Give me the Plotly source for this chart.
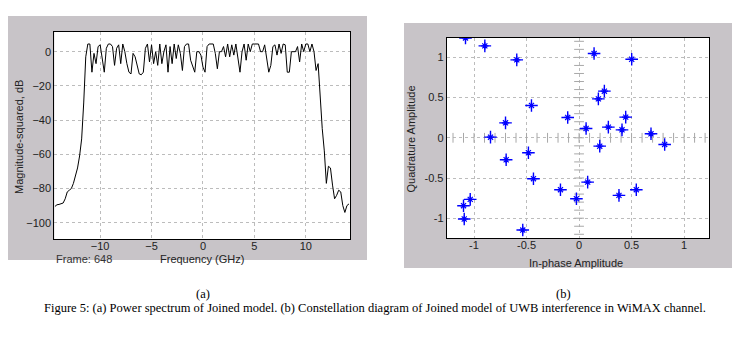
import numpy as np
import plotly.graph_objects as go

# ---------------- data ----------------
# (a) Power spectrum, frequency grid in GHz (0.2 GHz steps)
freq_ghz = np.round(np.arange(-14.4, 14.21, 0.2), 1)

left_tail_db = [-90.5, -89.5, -89.3, -89.0, -88.5, -86, -82, -81, -80, -77,
                -73, -68, -61, -51, -30]
band_db = [-3, 4.5, 4.5, -12, -1, -7, 3, 4, -4, -12,
           2, 4.5, 4.5, 3, -8, 2, 4, -7, 4.5, 0,
           -7, -12, -13, -1, -3, -8, -13, -13.5, -12, 2,
           4.5, -6, 4, -7, 0, -8, 4.5, -7, 0, 4,
           -12, 3, -7, 4.5, -4, 4, -1, -11, 3, 4.5,
           4.5, -5, -8, -12, 0, 0, -2, -9, -12, 3,
           4.5, 4.5, 4.5, -1, -10, 0, 0, 3, -3, 4.5,
           -3, 4, -2, 4.5, -3, -12, 0, 4.5, -5, 4.5,
           0, 4.5, 4.5, 4.5, 4.5, 0, 0, 4, -5, -12,
           -8, 3, 4, -2, 4.5, -1, 4.5, 4, -12, -12,
           0, 0, 0, 3, -6, 4.5, 0, 4.5, 4.5, 0,
           4.5, 0]
right_tail_db = [-11, -7, -28, -45, -58, -77, -67, -68, -78, -86,
                 -84, -81, -82, -90, -94, -90, -89]
power_db = left_tail_db + band_db + right_tail_db

spec_xticks = [-10, -5, 0, 5, 10]
spec_yticks = [0, -20, -40, -60, -80, -100]

# (b) Constellation points
in_phase = [-1.081, -0.897, -0.593, 0.143, 0.501, 0.241, 0.184, -0.453, -0.108, -0.700,
            0.444, 0.067, 0.279, 0.409, -0.843, 0.685, 0.815, 0.197, -0.482, -0.694,
            -0.434, 0.082, -0.177, 0.545, 0.380, -0.025, -1.036, -1.100, -1.093, -0.536]
quadrature = [1.242, 1.143, 0.969, 1.048, 0.977, 0.580, 0.484, 0.402, 0.253, 0.186,
              0.257, 0.116, 0.133, 0.099, 0.008, 0.050, -0.083, -0.104, -0.186, -0.273,
              -0.509, -0.551, -0.646, -0.646, -0.716, -0.758, -0.766, -0.845, -1.010, -1.147]
const_ticks = [-1, -0.5, 0, 0.5, 1]
const_ticktext = ["-1", "-0.5", "0", "0.5", "1"]
minor_tick_pos = [round(v, 1) for v in np.arange(-1.2, 1.21, 0.1)]

# ---------------- figure ----------------
OFF = 8                       # default page body margin
W, H = 741 - 2 * OFF, 362 - 2 * OFF
def px(x):
    return (x - OFF) / W
def py(y):
    return 1 - (y - OFF) / H

PANEL = "#c8c4c8"
GRID = "#bcbcbc"
FONT = "Liberation Sans, Arial, sans-serif"
BLUE = "#0000ff"

L_AREA = (54.3, 350, 31.5, 239.3)     # left, right, top, bottom (page pixels)
R_AREA = (446.7, 709.3, 37.7, 238.3)

fig = go.Figure()

fig.add_trace(go.Scatter(x=freq_ghz, y=power_db, mode="lines",
                         line=dict(color="black", width=1),
                         xaxis="x", yaxis="y", showlegend=False))

# minor tick decorations on the zero axes of the constellation
fig.add_trace(go.Scatter(x=minor_tick_pos, y=[0] * len(minor_tick_pos), mode="markers",
                         marker=dict(symbol="line-ns", size=7, color="#a8a8a8",
                                     line=dict(color="#a8a8a8", width=1)),
                         xaxis="x2", yaxis="y2", showlegend=False, hoverinfo="skip"))
fig.add_trace(go.Scatter(x=[0] * len(minor_tick_pos), y=minor_tick_pos, mode="markers",
                         marker=dict(symbol="line-ew", size=7, color="#a8a8a8",
                                     line=dict(color="#a8a8a8", width=1)),
                         xaxis="x2", yaxis="y2", showlegend=False, hoverinfo="skip"))

fig.add_trace(go.Scatter(x=in_phase, y=quadrature, mode="markers",
                         marker=dict(symbol="cross-thin-open", size=9, color=BLUE,
                                     line=dict(color=BLUE, width=1.4)),
                         xaxis="x2", yaxis="y2", showlegend=False))
fig.add_trace(go.Scatter(x=in_phase, y=quadrature, mode="markers",
                         marker=dict(symbol="asterisk-open", size=6, color=BLUE,
                                     line=dict(color=BLUE, width=1.2)),
                         xaxis="x2", yaxis="y2", showlegend=False, hoverinfo="skip"))

axis_common = dict(showline=True, linecolor="black", linewidth=1, mirror=True,
                   showgrid=True, gridcolor=GRID, griddash="dot", gridwidth=1,
                   zeroline=False, ticks="", automargin=False,
                   tickfont=dict(family=FONT, size=11, color="#222"))

def rect(area, color):
    l, r, t, b = area
    return dict(type="rect", xref="paper", yref="paper", layer="below",
                x0=px(l), x1=px(r), y0=py(b), y1=py(t),
                fillcolor=color, line=dict(width=0))

fig.update_layout(
    width=W, height=H,
    margin=dict(l=0, r=0, t=0, b=0),
    paper_bgcolor="white", plot_bgcolor="white",
    xaxis=dict(domain=[px(L_AREA[0]), px(L_AREA[1])], range=[-14.46, 14.3],
               tickvals=spec_xticks, anchor="y", ticklabelstandoff=-4, **axis_common),
    yaxis=dict(domain=[py(L_AREA[3]), py(L_AREA[2])], range=[-109.7, 11.8],
               tickvals=spec_yticks, anchor="x", **axis_common),
    xaxis2=dict(domain=[px(R_AREA[0]), px(R_AREA[1])], range=[-1.26, 1.24],
                tickvals=const_ticks, ticktext=const_ticktext, anchor="y2",
                ticklabelstandoff=-4, **axis_common),
    yaxis2=dict(domain=[py(R_AREA[3]), py(R_AREA[2])], range=[-1.25, 1.245],
                tickvals=const_ticks, ticktext=const_ticktext, anchor="x2", **axis_common),
    shapes=[
        rect((7, 367, 16, 260), PANEL),
        rect((404, 732, 23, 268), PANEL),
        rect(L_AREA, "white"),
        rect(R_AREA, "white"),
    ],
)

def ann(text, x, y, size=11, angle=0, xanchor="center", family=FONT, color="#222"):
    fig.add_annotation(text=text, x=px(x), y=py(y), xref="paper", yref="paper",
                       showarrow=False, textangle=angle, xanchor=xanchor, yanchor="middle",
                       font=dict(family=family, size=size, color=color))

ann("Magnitude-squared, dB", 19, 137, angle=-90)
ann("Frequency (GHz)", 202, 258.5)
ann("Frame: 648", 54, 258.5, xanchor="left", color="#333")
ann("Quadrature Amplitude", 410.5, 139, angle=-90)
ann("In-phase Amplitude", 576, 263)

SERIF = "Liberation Serif, Times New Roman, serif"
ann("(a)", 203, 294, size=12.5, family=SERIF, color="black")
ann("(b)", 563, 294, size=12.5, family=SERIF, color="black")
ann("Figure 5: (a) Power spectrum of Joined model. (b) Constellation diagram of Joined model of UWB interference in WiMAX channel.",
    375, 308, size=12.5, family=SERIF, color="black")

fig.write_html("out.html")
